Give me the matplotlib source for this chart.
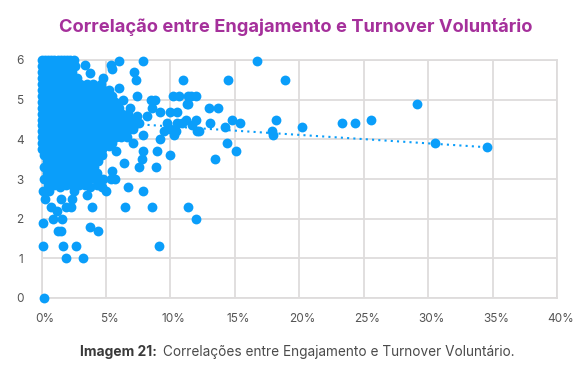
import matplotlib
matplotlib.use('Agg')
import matplotlib.pyplot as plt
from matplotlib.transforms import ScaledTranslation

plt.rcParams['font.family'] = ['Inter', 'DejaVu Sans']

# dense cloud, one list of turnover values per engagement level
dense_levels = [6.0, 5.85, 5.7, 5.55, 5.4, 5.25, 5.1, 4.95, 4.8, 4.65, 4.5,
                4.35, 4.2, 4.05, 3.9, 3.75, 3.6, 3.45, 3.3, 3.15, 3.0, 2.85,
                5.92, 5.62, 5.32, 5.02, 4.72, 4.42, 4.12, 3.82, 3.52, 3.22]
dense_turnover = [
    [0, 0.25, 0.5, 0.75, 1.0, 1.25, 1.5, 1.75, 2.0, 2.25, 2.5],
    [0, 0.25, 0.75, 1.25, 1.75, 2.25, 2.6],
    [0, 0.5, 1.0, 1.5, 2.0, 2.4],
    [0, 0.25, 0.75, 1.25, 1.75, 2.25, 2.75],
    [0, 0.5, 1.0, 1.5, 2.0, 2.5, 3.0, 3.5, 4.0, 4.6],
    [0, 0.25, 0.75, 1.25, 1.75, 2.25, 2.75, 3.25, 3.75, 4.25, 4.75, 5.2],
    [0, 0.5, 1.0, 1.5, 2.0, 2.5, 3.0, 3.5, 4.0, 4.5, 5.0, 5.5],
    [0, 0.25, 0.75, 1.25, 1.75, 2.25, 2.75, 3.25, 3.75, 4.25, 4.75, 5.25, 5.7],
    [0, 0.5, 1.0, 1.5, 2.0, 2.5, 3.0, 3.5, 4.0, 4.5, 5.0, 5.5, 6.0],
    [0, 0.25, 0.75, 1.25, 1.75, 2.25, 2.75, 3.25, 3.75, 4.25, 4.75, 5.25, 5.75, 6.25, 6.7],
    [0, 0.5, 1.0, 1.5, 2.0, 2.5, 3.0, 3.5, 4.0, 4.5, 5.0, 5.5, 6.0, 6.5, 7.0],
    [0, 0.25, 0.75, 1.25, 1.75, 2.25, 2.75, 3.25, 3.75, 4.25, 4.75, 5.25, 5.75, 6.25, 6.75, 7.2],
    [0, 0.5, 1.0, 1.5, 2.0, 2.5, 3.0, 3.5, 4.0, 4.5, 5.0, 5.5, 6.0, 6.6],
    [0, 0.25, 0.75, 1.25, 1.75, 2.25, 2.75, 3.25, 3.75, 4.25, 4.75, 5.25, 5.75, 6.2],
    [0, 0.5, 1.0, 1.5, 2.0, 2.5, 3.0, 3.5, 4.0, 4.5, 5.0, 5.5],
    [0, 0.25, 0.75, 1.25, 1.75, 2.25, 2.75, 3.25, 3.75, 4.25, 4.7],
    [0.2, 0.7, 1.2, 1.7, 2.2, 2.7, 3.2, 3.7, 4.2, 4.7],
    [0.4, 0.9, 1.4, 1.9, 2.4, 2.9, 3.4, 3.9, 4.4],
    [0.2, 0.7, 1.2, 1.7, 2.2, 2.7, 3.2, 3.7, 4.1],
    [0.4, 0.9, 1.4, 1.9, 2.4, 2.9, 3.4, 3.9, 4.3],
    [0.2, 0.7, 1.2, 1.7, 2.2, 2.7, 3.2, 3.7, 4.2, 4.8, 5.4],
    [0.5, 1.0, 1.9, 2.4, 2.9, 3.4, 4.3],
    [0.4, 1.0, 1.6, 2.2],
    [0.4, 1.0, 1.6, 2.2],
    [0.4, 1.0, 1.6, 2.2, 2.8, 3.4, 4.0, 4.6],
    [0.4, 1.0, 1.6, 2.2, 2.8, 3.4, 4.0, 4.6, 5.2],
    [0.4, 1.0, 1.6, 2.2, 2.8, 3.4, 4.0, 4.6, 5.2, 5.8],
    [0.4, 1.0, 1.6, 2.2, 2.8, 3.4, 4.0, 4.6, 5.2, 5.8, 6.4],
    [0.4, 1.0, 1.6, 2.2, 2.8, 3.4, 4.0, 4.6, 5.2, 5.8],
    [0.4, 1.0, 1.6, 2.2, 2.8, 3.4, 4.0, 4.6, 5.2],
    [0.4, 1.0, 1.6, 2.2, 2.8, 3.4, 4.0, 4.4],
    [0.6, 1.6, 2.6, 3.6],
]

# points that can be told apart
sparse_turnover = [
    0.2, 0.1, 1.7, 2.7, 1.9, 3.2, 9.1, 0.1, 0.9, 1.6, 1.3, 1.5, 3.8, 4.4, 0.7,
    1.2, 1.9, 2.3, 3.9, 6.5, 8.6, 11.4, 12.0, 0.3, 1.5, 2.4, 3.5, 0.1, 0.6, 2.5,
    5.0, 7.9, 6.7, 4.7, 3.8, 1.4, 5.7, 5.5, 7.6, 8.9, 6.4, 7.8, 10.0, 7.9, 9.0,
    5.8, 7.1, 7.9, 9.2, 10.3, 9.7, 10.5, 10.9, 9.5, 10.0, 10.4, 11.7, 12.1, 7.4,
    8.2, 7.6, 7.1, 6.6, 3.4, 5.4, 6.0, 7.9, 5.5, 3.8, 4.8, 7.2, 7.3, 11.0, 6.0,
    7.4, 10.2, 10.7, 11.4, 12.0, 8.5, 8.8, 11.3, 6.3, 6.9, 8.6, 9.2, 10.0, 10.5,
    11.2, 12.0, 11.6, 13.0, 13.7, 11.4, 13.1, 14.8, 15.4, 14.2, 18.2, 20.2, 17.9,
    18.0, 12.2, 14.4, 15.1, 13.5, 16.7, 14.5, 18.9, 23.3, 24.3, 25.6, 29.1, 30.5,
    34.6,
]
sparse_engagement = [
    0.0, 1.3, 1.3, 1.3, 1.0, 1.0, 1.3, 1.9, 2.0, 2.0, 1.7, 1.7, 1.8, 1.7, 2.3,
    2.2, 2.3, 2.3, 2.3, 2.3, 2.3, 2.3, 2.0, 2.5, 2.5, 2.5, 2.6, 2.7, 2.7, 2.7,
    2.7, 2.7, 2.8, 2.8, 2.8, 2.8, 3.0, 3.2, 3.3, 3.3, 3.4, 3.5, 3.6, 3.7, 3.7,
    3.7, 3.9, 4.1, 4.0, 4.1, 4.4, 4.4, 4.4, 4.2, 4.25, 4.2, 4.35, 4.2, 4.6,
    4.6, 4.4, 4.25, 4.05, 5.87, 5.87, 5.97, 5.97, 5.77, 5.67, 5.55, 5.7, 5.5, 5.5,
    5.3, 5.1, 5.1, 5.1, 5.1, 5.1, 5.0, 5.0, 4.9, 5.0, 4.8, 4.8, 4.7, 4.7, 4.7,
    4.5, 4.5, 5.1, 4.8, 4.8, 4.9, 4.4, 4.5, 4.4, 4.3, 4.5, 4.3, 4.2,
    4.1, 4.2, 3.9, 3.7, 3.5, 5.98, 5.5, 5.5, 4.4, 4.4, 4.5, 4.9, 3.9,
    3.8,
]

trend_turnover = [0, 34.6]
trend_engagement = [4.54, 3.8]

x_ticks = [0, 5, 10, 15, 20, 25, 30, 35, 40]
x_labels = ['0%', '5%', '10%', '15%', '20%', '25%', '30%', '35%', '40%']
y_ticks = [0, 1, 2, 3, 4, 5, 6]

W, H = 585, 368
fig = plt.figure(figsize=(W / 100, H / 100), dpi=100, facecolor='white')
ax = fig.add_axes([41.5 / W, 1 - 298 / H, (557 - 41.5) / W, (298 - 60) / H])

blue = '#0a9efa'
xs = []
ys = []
for level, row in zip(dense_levels, dense_turnover):
    xs += row
    ys += [level] * len(row)

ax.scatter(xs, ys, s=50, color=blue, linewidths=0, clip_on=False, zorder=3)
ax.scatter(sparse_turnover, sparse_engagement, s=50, color=blue, linewidths=0,
           clip_on=False, zorder=3)
ax.plot(trend_turnover, trend_engagement, color=blue, lw=1.5, ls=(0, (1, 2)), zorder=2)

ax.set_xlim(0, 40)
ax.set_ylim(0, 6)
ax.set_xticks(x_ticks)
ax.set_xticklabels(x_labels)
ax.set_yticks(y_ticks)
ax.grid(True, color='#dedcdc', lw=1.3, zorder=0)
ax.set_axisbelow(True)
for s in ax.spines.values():
    s.set_color('#dedcdc')
    s.set_linewidth(1.3)
ax.tick_params(length=0, labelsize=8.5, labelcolor='#555555', pad=11)
ax.tick_params(axis='y', pad=13)

shift = ScaledTranslation(3.5 / 100, 0, fig.dpi_scale_trans)
for lab in ax.get_xticklabels():
    lab.set_transform(lab.get_transform() + shift)

fig.text(296 / W, 1 - 26.5 / H, 'Correlação entre Engajamento e Turnover Voluntário',
         ha='center', va='center', fontsize=13.2, fontweight='bold', color='#a5309b')
fig.text(80 / W, 1 - 352 / H, 'Imagem 21:', ha='left', va='center', fontsize=10,
         fontweight='bold', color='#3a3a3a')
fig.text(163 / W, 1 - 352 / H, 'Correlações entre Engajamento e Turnover Voluntário.',
         ha='left', va='center', fontsize=9.8, color='#4a4a4a')

fig.savefig('out.png', dpi=100)
